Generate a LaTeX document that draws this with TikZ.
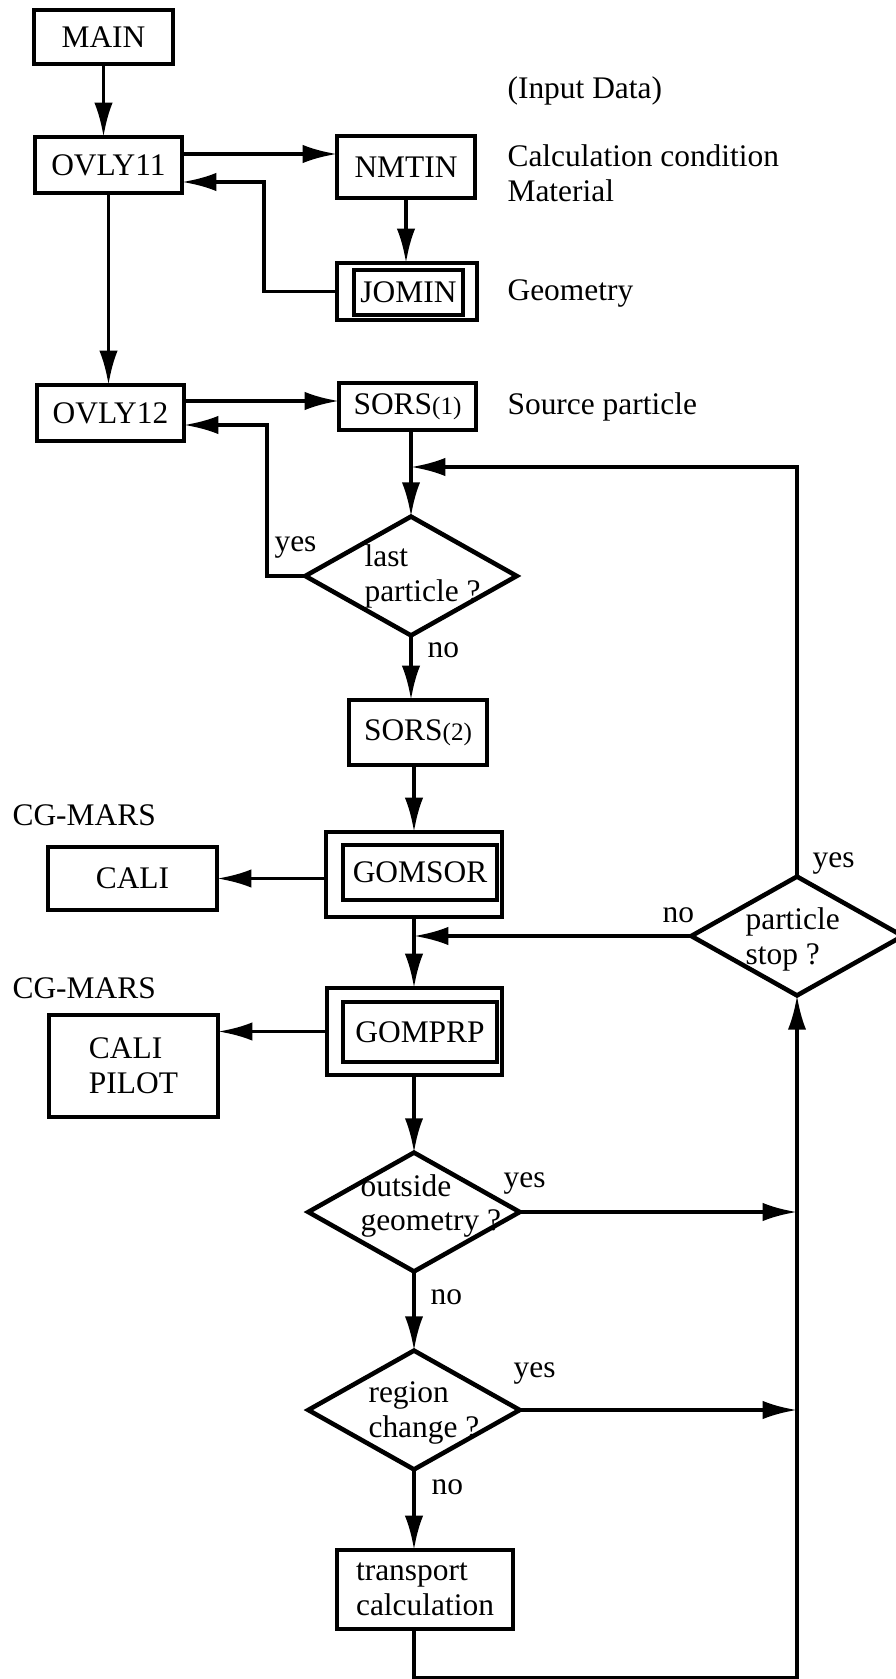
\documentclass[tikz,border=0pt]{standalone}
\usepackage{fontspec}
\setmainfont{Liberation Serif}
\usetikzlibrary{shapes.geometric}
\usetikzlibrary{arrows.meta}

\begin{document}
\begin{tikzpicture}[x=0.35pt,y=-0.35pt,
  font=\fontsize{11}{12.2}\selectfont,
  box/.style={draw,line width=1.4pt,inner sep=0pt,outer sep=0pt},
  dbox/.style={draw,line width=1.7pt,inner sep=0pt,outer sep=0pt},
  dia/.style={draw,diamond,line width=1.6pt,inner sep=0pt,outer sep=0pt,
    minimum width=74pt,minimum height=41.6pt},
  note/.style={anchor=west,inner sep=0pt,align=left},
  arr/.style={line width=1.3pt,-{Latex[length=12pt,width=6.4pt]}}]
\useasboundingbox (0,0) rectangle (896,1679);

% input part
\node[box,minimum width=48.65pt,minimum height=18.9pt] (main) at (103.5,37) {MAIN};
\node[note] (inputdata) at (507,91) {(Input Data)};
\node[box,minimum width=51.45pt,minimum height=19.6pt] (ovly11) at (108.5,165) {OVLY11};
\node[box,minimum width=48.3pt,minimum height=21.7pt] (nmtin) at (406,167) {NMTIN};
\node[note] (calccond) at (507,173.5) {Calculation condition\\Material};
\node[box,minimum width=49pt,minimum height=19.95pt] (jomin) at (407,291.5) {};
\node[box,line width=1.2pt,minimum width=38.15pt,minimum height=15.75pt] (jominin) at (408.5,292.5) {JOMIN};
\node[note] (geomtext) at (507,293) {Geometry};
\coordinate (bendA) at (264,182);

\draw[arr] (main.south) -- (main.south |- ovly11.north);
\draw[arr] (ovly11.east |- 0,154) -- (nmtin.west |- 0,154);
\draw[arr] (nmtin.south) -- (nmtin.south |- jomin.north);
\draw[arr] (jomin.west) -| (bendA) -- (ovly11.east |- bendA);

% source part
\node[box,minimum width=51.45pt,minimum height=19.6pt] (ovly12) at (110.5,413) {OVLY12};
\node[box,minimum width=47.95pt,minimum height=16.45pt] (sors1) at (407.5,406.5) {SORS{\fontsize{8.8}{9}\selectfont(1)}};
\node[note] (srctext) at (507,407) {Source particle};
\node[dia] (last) at (411,576) {};
\node[note] (lasttext) at (364,576.5) {last\\particle ?};
\node[note] (yes1) at (274,547) {yes};
\node[note] (no1) at (427,650) {no};
\node[box,minimum width=48.3pt,minimum height=22.75pt] (sors2) at (418,732.5) {SORS{\fontsize{8.8}{9}\selectfont(2)}};
\coordinate (bendB) at (267,425);
\coordinate (joinA) at (411,467);

\draw[arr] (ovly11.south) -- (ovly11.south |- ovly12.north);
\draw[arr] (ovly12.east |- 0,401) -- (sors1.west |- 0,401);
\draw[arr] (last.north |- sors1.south) -- (last.north);
\draw[arr] (last.west) -| (bendB) -- (ovly12.east |- bendB);
\draw[arr] (last.south) -- (last.south |- sors2.north);

% geometry part
\node[note] (cgmars1) at (12,815) {CG-MARS};
\node[box,minimum width=59.15pt,minimum height=22.05pt] (cali) at (132.5,878.5) {CALI};
\node[box,minimum width=61.6pt,minimum height=29.75pt] (gomsor) at (414,874.5) {};
\node[dbox,minimum width=53.9pt,minimum height=19.25pt] (gomsorin) at (420,872.5) {GOMSOR};
\node[dia] (stop) at (797,936) {};
\node[note] (stoptext) at (745,939.5) {particle\\stop ?};
\node[note] (yes2) at (812,863) {yes};
\node[note] (no2) at (662,915) {no};
\node[note] (cgmars2) at (12,988) {CG-MARS};
\node[box,minimum width=61.25pt,minimum height=30.45pt] (gomprp) at (414.5,1031.5) {};
\node[dbox,minimum width=53.9pt,minimum height=21pt] (gomprpin) at (420,1032) {GOMPRP};
\node[box,align=left,minimum width=59.15pt,minimum height=35.7pt] (calipilot) at (133.5,1066) {CALI\\PILOT};

\draw[arr] (gomsor.north |- sors2.south) -- (gomsor.north);
\draw[arr] (gomsor.west |- cali.east) -- (cali.east);
\draw[arr] (gomsor.south) -- (gomsor.south |- gomprp.north);
\draw[arr] (stop.west) -- (gomsor.south |- stop.west);
\draw[arr] (stop.north) |- (joinA);
\draw[arr] (gomprp.west) -- (calipilot.east |- gomprp.west);

% transport part
\node[dia] (outside) at (414,1212) {};
\node[note] (outsidetext) at (360,1206) {outside\\geometry ?};
\node[note] (yes3) at (503,1183) {yes};
\node[note] (no3) at (430,1297) {no};
\node[dia] (region) at (414,1410) {};
\node[note] (regiontext) at (368,1413) {region\\change ?};
\node[note] (yes4) at (513,1373) {yes};
\node[note] (no4) at (431,1487) {no};
\node[box,align=left,minimum width=61.6pt,minimum height=27.65pt] (trans) at (425,1589.5) {transport\\calculation};
\coordinate (bendC) at (797,1678);

\draw[arr] (outside.north |- gomprp.south) -- (outside.north);
\draw[arr] (outside.east) -- (stop.south |- outside.east);
\draw[arr] (outside.south) -- (region.north);
\draw[arr] (region.east) -- (stop.south |- region.east);
\draw[arr] (region.south) -- (region.south |- trans.north);
\draw[arr] (region.south |- trans.south) |- (bendC) -- (stop.south);
\end{tikzpicture}
\end{document}
